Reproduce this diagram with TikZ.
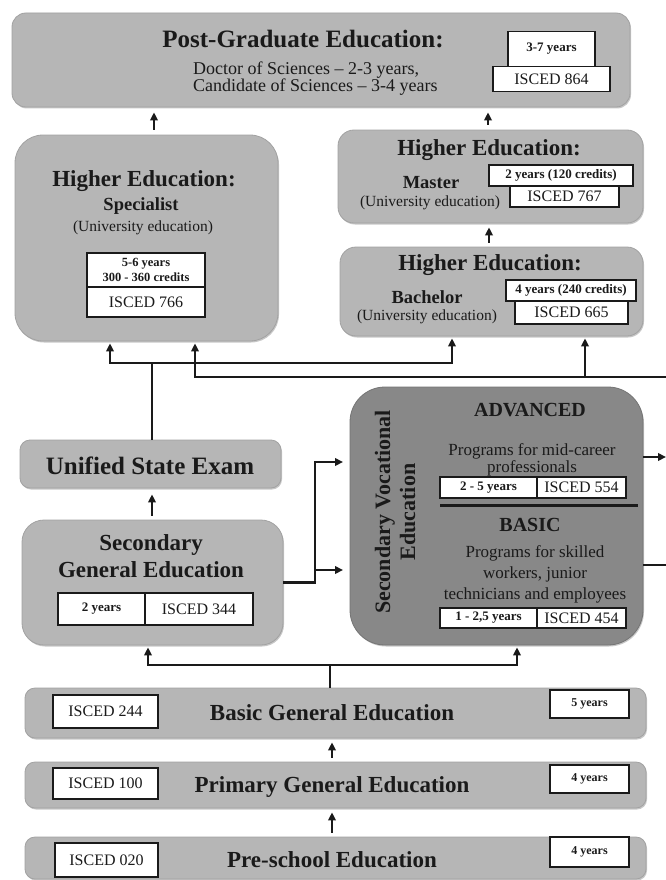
\documentclass[tikz,border=0pt]{standalone}
\usepackage{fontspec}
\setmainfont{Liberation Serif}
\usetikzlibrary{arrows.meta,shadows}
\definecolor{ink}{HTML}{1A1A1A}
\definecolor{boxfill}{HTML}{B6B6B6}
\definecolor{boxedge}{HTML}{A2A2A2}
\definecolor{darkfill}{HTML}{888888}
\newcommand\fsz[2]{\fontsize{#1}{#2}\selectfont}
\tikzset{
  gbox/.style={draw=boxedge, line width=0.8pt, fill=boxfill, rounded corners=#1, inner sep=0pt,
    drop shadow={shadow xshift=1pt, shadow yshift=-1.5pt, fill=black, opacity=0.22}},
  gbox/.default=12pt,
  wbox/.style={draw=ink, line width=1.3pt, fill=white, inner sep=0pt, text=ink, align=center},
  tt/.style={text=ink, inner sep=0pt, align=center},
  big/.style={font=\bfseries\fsz{23}{26}},
  sub/.style={font=\bfseries\fsz{18.5}{20}},
  uni/.style={font=\fsz{15.5}{17}},
  isc/.style={font=\fsz{16}{18}},
  yrs/.style={font=\bfseries\fsz{13}{15}},
  arr/.style={line width=2.2pt, draw=ink, -{Triangle[length=8pt,width=7.5pt]}},
  ln/.style={line width=2.2pt, draw=ink}
}
\begin{document}
\begin{tikzpicture}[x=1pt,y=-1pt]
\fill[white] (0,0) rectangle (666,880);
\path[use as bounding box] (0,0) rectangle (666,880);

% ---------- Post-graduate ----------
\node[gbox=14pt, minimum width=618pt, minimum height=94pt] (pg) at (321,60) {};
\node[tt, font=\bfseries\fsz{25}{28}] (pgt) at (303,39) {Post-Graduate Education:};
\node[tt, font=\fsz{18}{17}, align=left, anchor=west] (pgd) at (193,79) {Doctor of Sciences – 2-3 years,\\Candidate of Sciences – 3-4 years};
\node[wbox, yrs, minimum width=87pt, minimum height=35pt] (pg1) at (551.5,49) {3-7 years};
\node[wbox, isc, minimum width=117pt, minimum height=25pt] (pg2) at (551.5,79) {ISCED 864};

% ---------- Specialist ----------
\node[gbox=28pt, minimum width=263pt, minimum height=206pt] (spec) at (146.5,238) {};
\node[tt, big] (spect) at (144,181) {Higher Education:};
\node[tt, sub] (specs) at (141,206) {Specialist};
\node[tt, uni] (specu) at (143,228) {(University education)};
\node[wbox, minimum width=118pt, minimum height=34pt, font=\bfseries\fsz{12.5}{15}] (spec1) at (146,270) {5-6 years\\300 - 360 credits};
\node[wbox, isc, minimum width=118pt, minimum height=30pt] (spec2) at (146,302) {ISCED 766};

% ---------- Master ----------
\node[gbox=16pt, minimum width=305pt, minimum height=93pt] (mas) at (490.5,176.5) {};
\node[tt, big] (mast) at (489,150) {Higher Education:};
\node[tt, sub] (mass) at (431,183) {Master};
\node[tt, uni] (masu) at (430,203) {(University education)};
\node[wbox, yrs, minimum width=144pt, minimum height=21pt] (mas1) at (561,175.5) {2 years (120 credits)};
\node[wbox, isc, minimum width=109pt, minimum height=21pt] (mas2) at (564.5,196.5) {ISCED 767};

% ---------- Bachelor ----------
\node[gbox=16pt, minimum width=303pt, minimum height=89pt] (bac) at (491.5,291.5) {};
\node[tt, big] (bact) at (490,265) {Higher Education:};
\node[tt, sub] (bacs) at (427,297) {Bachelor};
\node[tt, uni] (bacu) at (427,317) {(University education)};
\node[wbox, yrs, minimum width=130pt, minimum height=21pt] (bac1) at (571,290.5) {4 years (240 credits)};
\node[wbox, isc, minimum width=113pt, minimum height=23pt] (bac2) at (571.5,312.5) {ISCED 665};

% ---------- Unified State Exam ----------
\node[gbox=10pt, minimum width=261pt, minimum height=48pt] (use) at (150.5,464) {};
\node[tt, font=\bfseries\fsz{25}{28}] (uset) at (150,466) {Unified State Exam};

% ---------- Secondary General ----------
\node[gbox=22pt, minimum width=261pt, minimum height=125pt] (sge) at (152.5,582.5) {};
\node[tt, font=\bfseries\fsz{23}{27}] (sget) at (151,556) {Secondary\\General Education};
\node[wbox, yrs, minimum width=87pt, minimum height=32pt] (sge1) at (101.5,609) {2 years};
\node[wbox, isc, minimum width=108pt, minimum height=32pt] (sge2) at (199,609) {ISCED 344};

% ---------- Secondary Vocational ----------
\node[gbox=35pt, fill=darkfill, draw=darkfill!85!black, minimum width=293pt, minimum height=258pt] (sve) at (496.5,516) {};
\node[tt, rotate=90, font=\bfseries\fsz{22}{25}] (svet) at (395,512) {Secondary Vocational\\Education};
\node[tt, font=\bfseries\fsz{20}{22}] (adv) at (530,410) {ADVANCED};
\node[tt, font=\fsz{17}{17}] (advp) at (532,460) {Programs for mid-career\\professionals};
\node[wbox, yrs, minimum width=97pt, minimum height=21pt] (adv1) at (488.5,487.5) {2 - 5 years};
\node[wbox, isc, minimum width=89pt, minimum height=21pt] (adv2) at (581.5,487.5) {ISCED 554};
\draw[line width=3pt, draw=ink] (440,505) -- (638,505);
\node[tt, font=\bfseries\fsz{20}{22}] (bas) at (530,525) {BASIC};
\node[tt, font=\fsz{17}{21}] (basp) at (535,574) {Programs for skilled\\workers, junior\\technicians and employees};
\node[wbox, yrs, minimum width=97pt, minimum height=20pt] (bas1) at (488.5,618) {1 - 2,5 years};
\node[wbox, isc, minimum width=89pt, minimum height=20pt] (bas2) at (581.5,618) {ISCED 454};

% ---------- Bottom bars ----------
\node[gbox=10pt, minimum width=621pt, minimum height=50pt] (basic) at (335.5,713) {};
\node[wbox, isc, minimum width=105pt, minimum height=33pt] (basic1) at (105.5,711.5) {ISCED 244};
\node[tt, big] (basict) at (332,713) {Basic General Education};
\node[wbox, font=\bfseries\fsz{12}{14}, minimum width=79pt, minimum height=28pt] (basic2) at (589.5,704) {5 years};

\node[gbox=10pt, minimum width=621pt, minimum height=46pt] (prim) at (335.5,785) {};
\node[wbox, isc, minimum width=105pt, minimum height=31pt] (prim1) at (105.5,783.5) {ISCED 100};
\node[tt, big] (primt) at (332,787) {Primary General Education};
\node[wbox, font=\bfseries\fsz{12}{14}, minimum width=79pt, minimum height=28pt] (prim2) at (589.5,779) {4 years};

\node[gbox=10pt, minimum width=621pt, minimum height=42pt] (pre) at (335.5,858) {};
\node[wbox, isc, minimum width=103pt, minimum height=34pt] (pre1) at (106.5,860) {ISCED 020};
\node[tt, big] (pret) at (332,860) {Pre-school Education};
\node[wbox, font=\bfseries\fsz{12}{14}, minimum width=79pt, minimum height=30pt] (pre2) at (589.5,852) {4 years};

% ---------- Connectors ----------
\coordinate (x155) at (154,0);
\coordinate (x488) at (488,0);
\coordinate (x489) at (489,0);
\coordinate (x152) at (152,0);
\coordinate (x332) at (332,0);
\draw[arr, shorten <=5pt, shorten >=5pt] (spec.north -| x155) -- (pg.south -| x155);
\draw[arr, shorten <=5pt, shorten >=5pt] (mas.north -| x488) -- (pg.south -| x488);
\draw[arr, shorten <=4pt, shorten >=4pt] (bac.north -| x489) -- (mas.south -| x489);
\draw[arr, shorten <=4pt, shorten >=6pt] (sge.north -| x152) -- (use.south -| x152);
\draw[arr, shorten <=4pt, shorten >=4pt] (prim.north -| x332) -- (basic.south -| x332);
\draw[arr, shorten <=4pt, shorten >=4pt] (pre.north -| x332) -- (prim.south -| x332);

% from Unified State Exam
\coordinate (a1) at (110,363);
\coordinate (a2) at (452,363);
\draw[arr, shorten >=2pt] (use.north -| x152) |- (a1) -- (a1 |- spec.south);
\draw[arr, shorten >=2pt] (x152 |- a1) -- (a2) -- (a2 |- bac.south);

% from the right (Secondary Vocational)
\coordinate (r1) at (666,377);
\coordinate (b1) at (195,377);
\coordinate (b2) at (585,377);
\draw[arr, shorten >=2pt] (r1) -- (b1) -- (b1 |- spec.south);
\draw[arr, shorten >=2pt] (b2) -- (b2 |- bac.south);
\coordinate (e1) at (666,457);
\coordinate (e2) at (666,565);
\draw[arr] (sve.east |- e1) -- (e1);
\draw[ln] (sve.east |- e2) -- (e2);

% Secondary General -> Secondary Vocational
\coordinate (v) at (315,582);
\coordinate (t1) at (343,462);
\coordinate (t2) at (343,570);
\draw[arr] (sge.east) -| (v |- t1) -- (t1);
\draw[arr] (v |- t2) -- (t2);

% Basic General -> Secondary General / Vocational
\coordinate (k0) at (330,665);
\coordinate (k1) at (148,665);
\coordinate (k2) at (517,665);
\draw[arr, shorten >=2pt] (basic.north -| k0) -- (k0) -- (k1) -- (k1 |- sge.south);
\draw[arr, shorten >=2pt] (k0) -- (k2) -- (k2 |- sve.south);
\end{tikzpicture}
\end{document}
